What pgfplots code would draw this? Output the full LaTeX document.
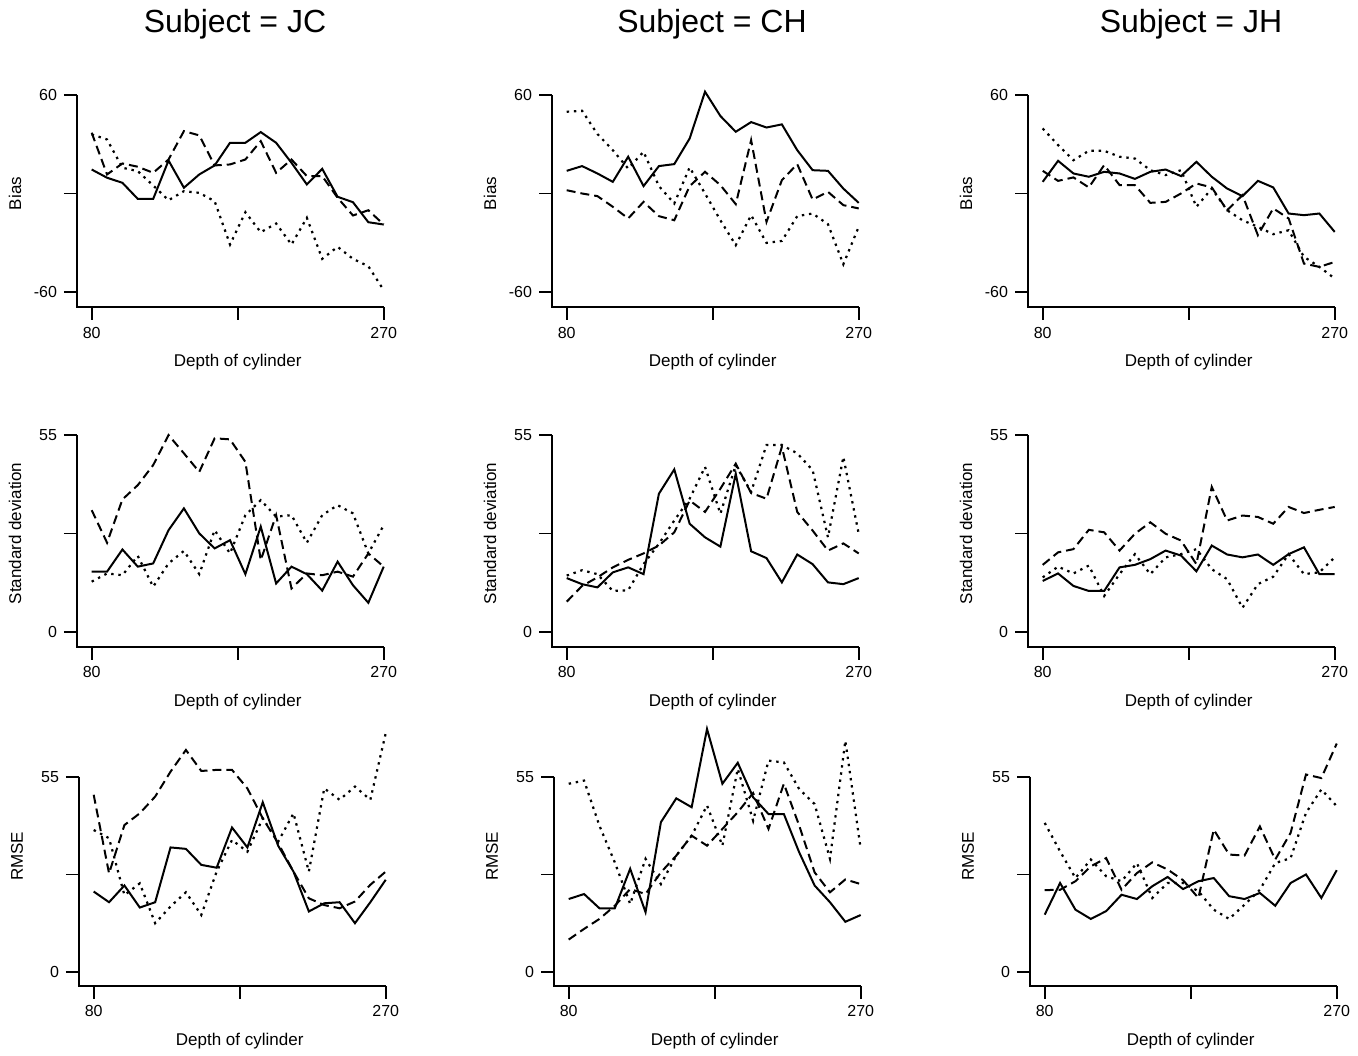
\documentclass[border=0pt]{standalone}
\usepackage{pgfplots}
\usepackage{pgfplotstable}
\pgfplotsset{compat=1.18}
\usepackage{fontspec}
\setmainfont{Liberation Sans}

% columns: x, solid, dashed, dotted
\pgfplotstableread{
x s d o
80 14.6 37.0 36.0
90 9.6 11.6 32.9
100 6.5 18.3 15.7
110 -3.3 16.3 13.6
120 -3.3 12.6 4.9
130 20.1 20.7 -4.1
140 3.5 38.0 1.4
150 11.6 35.4 0.4
160 17.1 17.1 -4.7
170 30.9 17.7 -31.1
180 30.9 20.7 -11.4
190 37.4 31.9 -23.6
200 30.9 12.6 -18.3
210 18.7 20.7 -31.1
220 5.5 10.6 -14.8
230 15.0 10.6 -39.8
240 -2.0 -2.6 -32.5
250 -5.3 -13.4 -39.8
260 -17.5 -10.2 -44.3
270 -18.9 -18.9 -58.9
}\tJCb
\pgfplotstableread{
x s d o
80 13.8 2.0 49.8
90 16.7 0.0 50.4
100 12.2 -1.6 36.2
110 7.1 -8.1 26.4
120 22.4 -15.2 15.2
130 4.5 -5.1 25.4
140 16.7 -13.8 4.5
150 17.9 -16.3 -6.1
160 33.5 4.5 15.9
170 62.0 13.2 0.0
180 47.2 5.1 -16.3
190 37.6 -6.5 -31.5
200 43.5 32.5 -13.2
210 40.2 -17.3 -30.1
220 42.1 8.1 -28.9
230 26.4 17.9 -13.8
240 14.2 -3.7 -12.2
250 13.8 1.0 -18.7
260 3.0 -7.1 -43.1
270 -5.7 -9.1 -20.3
}\tCHb
\pgfplotstableread{
x s d o
80 7.1 13.8 39.6
90 19.9 7.7 29.5
100 12.2 9.8 20.3
110 10.2 3.7 26.0
120 13.2 17.3 26.0
130 12.2 5.1 22.4
140 8.9 5.1 21.3
150 13.2 -5.7 14.2
160 14.6 -5.1 11.2
170 10.6 0.0 14.2
180 19.3 6.1 -8.1
190 10.2 3.7 3.0
200 3.0 -10.2 -10.2
210 -1.6 -1.0 -16.3
220 7.7 -25.4 -20.3
230 3.7 -9.1 -24.8
240 -12.2 -15.2 -22.4
250 -13.2 -42.7 -38.6
260 -12.2 -44.7 -44.7
270 -23.4 -41.7 -51.8
}\tJHb
\pgfplotstableread{
x s d o
80 16.8 34.0 14.0
90 16.8 24.9 16.3
100 23.0 37.0 15.8
110 18.2 41.0 21.2
120 19.1 46.6 12.6
130 28.4 55.0 19.1
140 34.5 49.9 22.6
150 27.5 44.7 16.1
160 23.3 54.1 28.4
170 25.6 53.8 21.9
180 16.1 47.5 32.6
190 29.4 20.0 36.8
200 13.5 32.6 32.2
210 18.2 12.1 32.6
220 16.1 16.3 24.9
230 11.5 15.8 32.6
240 19.6 16.8 35.4
250 13.0 15.4 33.1
260 8.1 21.9 21.9
270 18.2 18.2 29.8
}\tJCs
\pgfplotstableread{
x s d o
80 15.0 8.4 15.7
90 13.3 12.8 17.2
100 12.4 15.2 16.1
110 16.6 18.0 11.4
120 18.0 20.1 11.6
130 16.1 21.9 18.9
140 38.6 24.1 24.6
150 45.4 27.8 31.1
160 30.2 36.7 37.2
170 26.4 33.5 46.1
180 23.8 40.0 33.0
190 44.2 47.0 46.6
200 22.5 38.8 39.1
210 20.6 37.2 52.2
220 13.8 51.7 52.2
230 21.6 33.5 49.9
240 18.9 28.3 45.2
250 13.8 22.7 26.4
260 13.3 24.7 48.9
270 15.0 21.9 27.4
}\tCHs
\pgfplotstableread{
x s d o
80 14.2 18.7 15.2
90 16.3 22.2 18.2
100 12.8 23.1 16.3
110 11.4 28.5 18.5
120 11.4 27.8 10.0
130 18.0 22.7 16.1
140 18.7 27.4 21.7
150 20.3 30.6 16.1
160 22.7 27.4 20.8
170 21.3 25.5 21.7
180 16.9 18.9 23.1
190 24.1 40.5 17.5
200 21.6 31.1 14.7
210 20.8 32.5 6.7
220 21.6 32.1 13.3
230 18.7 30.2 15.4
240 21.7 34.9 21.7
250 23.6 33.2 16.1
260 16.1 34.1 16.6
270 16.1 34.9 20.8
}\tJHs
\pgfplotstableread{
x s d o
80 22.7 49.9 40.0
90 19.7 27.8 37.7
100 24.4 41.4 21.7
110 18.2 44.7 25.0
120 19.7 49.4 13.8
130 35.1 56.4 18.5
140 34.7 62.5 22.5
150 30.2 56.6 16.1
160 29.4 56.9 28.3
170 40.7 56.9 37.2
180 35.1 51.7 33.9
190 47.8 43.3 43.3
200 35.6 36.3 36.7
210 28.3 28.3 44.7
220 17.1 20.8 28.3
230 19.4 18.9 51.7
240 19.7 18.0 48.5
250 13.8 19.9 52.2
260 19.7 24.6 48.5
270 26.0 28.3 67.2
}\tJCr
\pgfplotstableread{
x s d o
80 20.6 9.2 53.0
90 22.0 12.2 53.9
100 18.0 15.0 41.2
110 18.0 18.7 30.9
120 29.1 23.4 19.2
130 16.9 22.0 31.9
140 42.2 28.1 24.8
150 48.9 32.8 32.8
160 46.4 38.4 38.4
170 68.4 35.6 46.9
180 53.0 40.3 35.6
190 58.9 45.0 57.2
200 49.2 50.4 42.6
210 44.5 40.3 59.5
220 44.5 53.0 59.0
230 33.7 41.2 51.5
240 24.4 28.1 47.3
250 19.7 22.5 31.9
260 14.2 26.1 65.1
270 16.1 24.8 34.7
}\tCHr
\pgfplotstableread{
x s d o
80 16.2 23.1 42.0
90 25.1 23.2 34.0
100 17.6 25.6 26.5
110 15.0 29.8 31.7
120 17.2 32.1 27.0
130 21.8 23.2 25.6
140 20.6 27.9 30.7
150 24.2 30.9 20.9
160 26.8 28.9 25.1
170 23.4 25.9 25.1
180 25.6 20.9 22.8
190 26.5 40.1 17.6
200 21.4 33.1 15.0
210 20.6 32.8 19.0
220 22.3 41.0 23.2
230 18.7 31.7 30.7
240 25.1 39.2 32.1
250 27.5 55.6 44.8
260 20.9 54.6 51.4
270 28.7 64.3 46.7
}\tJHr

\pgfplotsset{
  panel/.style={
    scale only axis, anchor=south west,
    width=160.7pt,
    xmin=70.44, xmax=279.56,
    axis lines=left, axis line style={draw=none},
    tick align=outside, major tick length=6.5pt,
    tick style={black, line width=0.9pt},
    xtick={80,175,270}, xticklabels={80,,270},
    clip=false,
    ticklabel style={font=\fontsize{8}{9}\selectfont},
    label style={font=\fontsize{8.5}{10}\selectfont},
    xlabel={Depth of cylinder},
    xlabel style={at={(axis description cs:0.5,0)}, anchor=center, yshift=-27.5pt},
    ylabel style={anchor=center, yshift=31pt},
  },
  biasrow/.style={panel, height=113.5pt, ymin=-69.14, ymax=69.14,
    ytick={-60,0,60}, yticklabels={-60,,60}, ylabel={Bias},
    ylabel style={at={(axis description cs:0,0.5)}}},
  sdrow/.style={panel, height=113.3pt, ymin=-4.19, ymax=59.19,
    ytick={0,27.5,55}, yticklabels={0,,55}, ylabel={Standard deviation},
    ylabel style={at={(axis description cs:0,0.5)}}},
  rmserow/.style={panel, height=134.76pt, ymin=-3.77, ymax=72,
    ytick={0,27.5,55}, yticklabels={0,,55}, ylabel={RMSE},
    ylabel style={at={(axis description cs:0,0.48)}}},
  sol/.style={black, line width=1pt},
  dsh/.style={black, line width=1pt, dash pattern=on 4.5pt off 2.5pt},
  dot/.style={black, line width=1.1pt, dash pattern=on 1.2pt off 2.4pt},
}

\newcommand{\threelines}[1]{%
  \addplot[sol] table[x=x,y=s] {#1};
  \addplot[dsh] table[x=x,y=d] {#1};
  \addplot[dot] table[x=x,y=o] {#1};
}

\begin{document}
\begin{tikzpicture}
\useasboundingbox (0,0) rectangle (679pt,527.5pt);

\node[anchor=base, font=\fontsize{16}{19}\selectfont] at (117.5pt,511pt) {Subject = JC};
\node[anchor=base, font=\fontsize{16}{19}\selectfont] at (356pt,511pt) {Subject = CH};
\node[anchor=base, font=\fontsize{16}{19}\selectfont] at (595.5pt,511pt) {Subject = JH};

% row 1: bias
\begin{axis}[biasrow, at={(38.5pt,374pt)}]
  \threelines{\tJCb}
  \draw[line width=0.9pt] (axis cs:70.44,60) |- (axis cs:270,-69.14);
\end{axis}
\begin{axis}[biasrow, at={(276pt,374pt)}]
  \threelines{\tCHb}
  \draw[line width=0.9pt] (axis cs:70.44,60) |- (axis cs:270,-69.14);
\end{axis}
\begin{axis}[biasrow, at={(514pt,374pt)}]
  \threelines{\tJHb}
  \draw[line width=0.9pt] (axis cs:70.44,60) |- (axis cs:270,-69.14);
\end{axis}

% row 2: standard deviation
\begin{axis}[sdrow, at={(38.5pt,204.15pt)}]
  \threelines{\tJCs}
  \draw[line width=0.9pt] (axis cs:70.44,55) |- (axis cs:270,-4.19);
\end{axis}
\begin{axis}[sdrow, at={(276pt,204.15pt)}]
  \threelines{\tCHs}
  \draw[line width=0.9pt] (axis cs:70.44,55) |- (axis cs:270,-4.19);
\end{axis}
\begin{axis}[sdrow, at={(514pt,204.15pt)}]
  \threelines{\tJHs}
  \draw[line width=0.9pt] (axis cs:70.44,55) |- (axis cs:270,-4.19);
\end{axis}

% row 3: rmse
\begin{axis}[rmserow, at={(39.5pt,34.65pt)}]
  \threelines{\tJCr}
  \draw[line width=0.9pt] (axis cs:70.44,55) |- (axis cs:270,-3.77);
\end{axis}
\begin{axis}[rmserow, at={(277pt,34.65pt)}]
  \threelines{\tCHr}
  \draw[line width=0.9pt] (axis cs:70.44,55) |- (axis cs:270,-3.77);
\end{axis}
\begin{axis}[rmserow, at={(515pt,34.65pt)}]
  \threelines{\tJHr}
  \draw[line width=0.9pt] (axis cs:70.44,55) |- (axis cs:270,-3.77);
\end{axis}
\end{tikzpicture}
\end{document}
